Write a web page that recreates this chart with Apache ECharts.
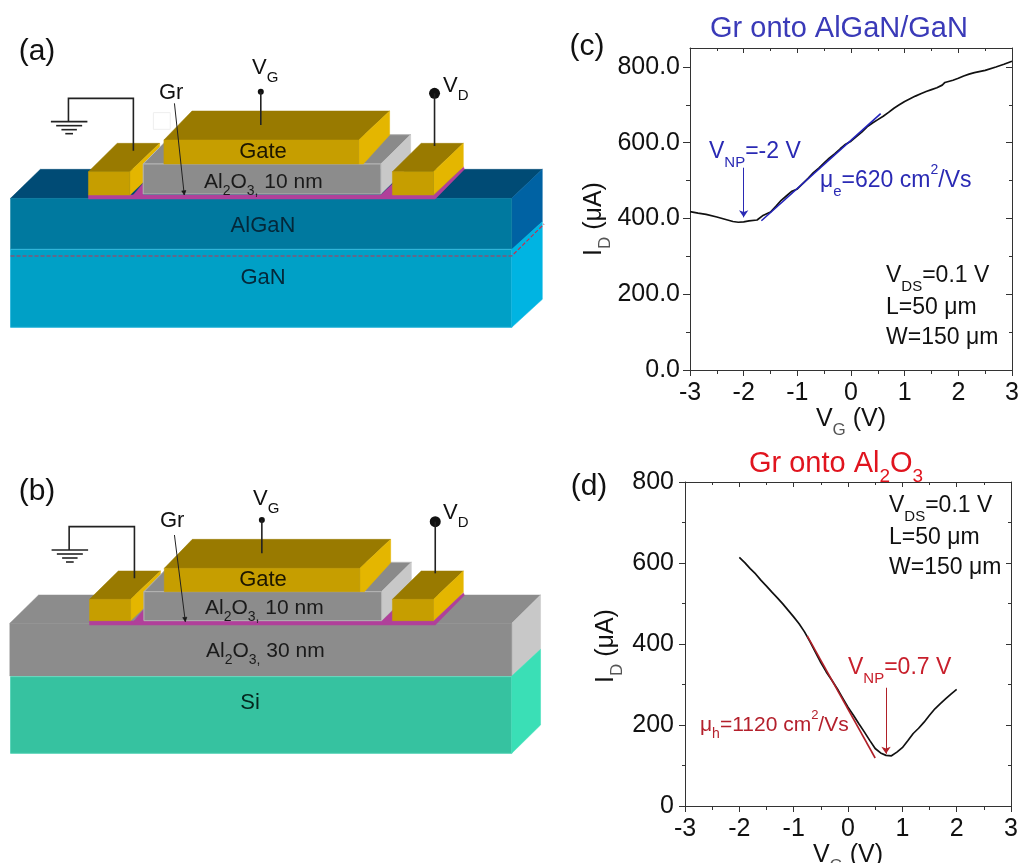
<!DOCTYPE html>
<html><head><meta charset="utf-8">
<style>html,body{margin:0;padding:0;background:#fff}#c{width:1018px;height:863px}</style>
<script src="https://cdn.jsdelivr.net/npm/echarts@6/dist/echarts.min.js"></script>
</head><body><div id="c"></div>
<script>
// ---- data ----
const curveC = [[-3,418],[-2.85,414],[-2.7,411],[-2.5,404],[-2.3,396],[-2.2,392],[-2.1,390],[-2,391],[-1.9,393.5],[-1.75,396],[-1.65,407],[-1.5,417],[-1.4,432],[-1.3,448],[-1.2,460],[-1.1,472],[-1,478],[-0.9,492],[-0.8,506],[-0.7,521],[-0.6,533],[-0.5,547],[-0.4,560],[-0.3,571],[-0.2,584],[-0.1,596],[0,604],[0.1,616],[0.2,628],[0.3,642],[0.4,652],[0.5,661],[0.6,670],[0.7,680],[0.8,691],[0.9,700],[1,709],[1.1,716],[1.2,723],[1.3,729],[1.4,735],[1.5,740],[1.6,745],[1.7,752],[1.75,759],[1.9,765],[2,770],[2.1,776],[2.2,781],[2.3,785],[2.5,791],[2.7,800],[2.85,807],[3,815]];
const fitC = [[-1.67,394],[0.553,677]];
const arrowC = [[-2,534],[-2,403]];
const curveD = [[-2,614],[-1.9,601],[-1.8,586],[-1.7,573],[-1.6,557],[-1.5,543],[-1.4,528],[-1.3,514],[-1.2,499],[-1.1,483],[-1,467],[-0.9,450],[-0.8,430],[-0.7,406],[-0.6,380],[-0.5,354],[-0.4,331],[-0.3,311],[-0.2,290],[-0.1,267],[0,244],[0.1,224],[0.2,203],[0.3,183],[0.4,162],[0.5,142],[0.6,131],[0.7,125],[0.8,124],[0.9,133],[1,144],[1.1,161],[1.2,179],[1.3,192],[1.4,207],[1.5,224],[1.6,240],[1.7,253],[1.8,265],[1.9,277],[2,288]];
const fitD = [[-0.75,420],[0.5,118.5]];
const arrowD = [[0.7,292],[0.7,129]];
const yMajorC = [0,200,400,600,800];
const yMinorC = [100,300,500,700];

// ---- text helper: single string with sub/superscripts ----
const FONT = '"Liberation Sans", Arial, sans-serif';
function rich(size, color, subColor){
  const lh = Math.round(size*1.55);
  const w = {fontFamily:FONT,fontWeight:'normal',lineHeight:lh};
  return {
    m:Object.assign({fontSize:size,color:color,verticalAlign:'middle'},w),
    s:Object.assign({fontSize:Math.round(size*0.66),color:subColor||color,verticalAlign:'bottom'},w),
    u:Object.assign({fontSize:Math.round(size*0.6),color:color,verticalAlign:'top'},w)
  };
}
function label(x,y,text,size,color,align,subColor){
  return {type:'text',x:x,y:y,z:30,silent:true,
    style:{text:text,rich:rich(size,color,subColor),fill:color,font:size+'px '+FONT,align:align||'left',verticalAlign:'middle'}};
}
// ---- schematic helpers (coordinates measured from the crops) ----
const g = [];
let OY = 0;
const P = p => [p[0]*0.351, p[1]/3+OY];
function poly(pts,fill,stroke){ g.push({type:'polygon',silent:true,z:5,shape:{points:pts.map(P)},style:{fill:fill,stroke:stroke||fill,lineWidth:stroke?1:0.5}}); }
function rectz(x0,y0,x1,y1,fill,stroke){ poly([[x0,y0],[x1,y0],[x1,y1],[x0,y1]],fill,stroke); }
function line(pts,stroke,w,dash){ g.push({type:'polyline',silent:true,z:6,shape:{points:pts.map(P)},style:{stroke:stroke,lineWidth:w,fill:null,lineDash:dash||null}}); }
function dot(x,y,r){ const p=P([x,y]); g.push({type:'circle',silent:true,z:6,shape:{cx:p[0],cy:p[1],r:r},style:{fill:'#111'}}); }
function arrow(a,b){
  line([a,b],'#222',1);
  const d=Math.atan2(b[1]-a[1],b[0]-a[0]),L=13,W=6;
  const bx=b[0]-L*Math.cos(d),by=b[1]-L*Math.sin(d);
  poly([b,[bx-W*Math.sin(d),by+W*Math.cos(d)],[bx+W*Math.sin(d),by-W*Math.cos(d)]],'#111');
}
const GOLD_F='#c69e00',GOLD_T='#997a00',GOLD_R='#e4b600',OX_F='#8c8c8c',OX_T='#8a8a8a',OX_R='#c8c8c8',MAG='#b0409a',OX_E='#b4b4b4';
function contact(c){
  poly([[c.x0,c.y0],[c.x0+82,c.y0-85],[c.x1+85,c.y0-85],[c.x1,c.y0]],GOLD_T);
  poly([[c.x1,c.y0],[c.x1+85,c.y0-85],[c.x1+85,c.y1-85],[c.x1,c.y1]],GOLD_R);
  rectz(c.x0,c.y0,c.x1,c.y1,GOLD_F);
}
function device(o){
  OY=o.oy;
  poly([[o.l.x0,o.base-10],[o.r.x1,o.base-10],[o.r.x1+85,o.base-95],[o.r.x1+88,o.base-87],[o.r.x1+5,o.base+2],[o.l.x0,o.base+2]],MAG);
  contact(o.l);
  poly([[o.ox.x0-28,o.base-10],[o.ox.x0,o.base-45],[o.ox.x0,o.base-10]],MAG);
  poly([[o.ox.x1,o.base-10],[o.ox.x1+35,o.base-45],[o.ox.x1+35,o.base-10]],MAG);
  const t=o.ox;
  poly([[t.x0,t.y0],[t.x0+82,t.y0-88],[t.x1+85,t.y0-88],[t.x1,t.y0]],OX_T,OX_E);
  poly([[t.x1,t.y0],[t.x1+85,t.y0-88],[t.x1+85,t.y1-88],[t.x1,t.y1]],OX_R);
  rectz(t.x0,t.y0,t.x1,t.y1,OX_F,OX_E);
  contact(o.r);
  const a=o.gate;
  poly([[a.x0,a.y0],[a.x0+80,a.y0-87],[a.x1+88,a.y0-87],[a.x1,a.y0]],GOLD_T);
  poly([[a.x1,a.y0],[a.x1+88,a.y0-87],[a.x1+88,a.y1-87],[a.x1+13,a.y1],[a.x1,a.y1]],GOLD_R);
  rectz(a.x0,a.y0,a.x1,a.y1,GOLD_F);
}
function wires(o){
  line([[o.gx,o.wy0],[o.gx,o.wy1],[o.ex,o.wy1],[o.ex,o.ey]],'#222',1.6);
  [[52,o.ey],[37,o.ey+12],[22,o.ey+24],[11,o.ey+36]].forEach(r=>line([[o.ex+2-r[0],r[1]],[o.ex+2+r[0],r[1]]],'#222',1.6));
  dot(o.vgx,o.vgy,3); line([[o.vgx,o.vgy],[o.vgx,o.vgy+100]],'#222',1.6);
  dot(o.vdx,o.vdy,5.5); line([[o.vdx,o.vdy],[o.vdx,o.vdend]],'#222',1.6);
  arrow(o.a0,o.a1);
}

// ---- panel (a) ----
OY=20;
poly([[30,535],[115,448],[1545,448],[1458,535]],'#004b75');
poly([[1458,535],[1545,448],[1545,605],[1458,690]],'#0062a3');
rectz(30,535,1458,688,'#00799f');
rectz(30,688,1458,922,'#00a0c6','#35b8dc');
poly([[1458,688],[1545,605],[1545,838],[1458,922]],'#00b4e2');
line([[30,708],[1458,708],[1550,612]],'#c4304e',1.2,[4,2]);
device({oy:20,base:535,l:{x0:252,x1:370,y0:455,y1:525},r:{x0:1118,x1:1235,y0:455,y1:525},ox:{x0:408,x1:1085,y0:432,y1:522},gate:{x0:467,x1:1022,y0:360,y1:432}});
rectz(437,278,485,328,'#ffffff','#eeeeee');
wires({gx:380,wy0:392,wy1:235,ex:195,ey:305,vgx:743,vgy:215,vdx:1238,vdy:220,vdend:378,a0:[497,250],a1:[525,525]});

// ---- panel (b) ----
OY=470;
poly([[28,460],[110,375],[1540,375],[1458,460]],'#8c8c8c');
poly([[1458,460],[1540,375],[1540,538],[1458,618]],'#c8c8c8');
rectz(28,460,1458,618,'#8c8c8c');
rectz(30,620,1458,850,'#36c2a0','#5cd4b8');
poly([[1458,618],[1540,538],[1540,765],[1458,850]],'#3adfb6');
device({oy:470,base:463,l:{x0:255,x1:372,y0:388,y1:452},r:{x0:1118,x1:1235,y0:388,y1:452},ox:{x0:410,x1:1087,y0:365,y1:452},gate:{x0:468,x1:1025,y0:295,y1:365}});
wires({gx:383,wy0:325,wy1:170,ex:197,ey:240,vgx:746,vgy:150,vdx:1240,vdy:155,vdend:310,a0:[497,195],a1:[528,455]});

// ---- texts ----
const INK='#111', SUBINK='#444';
g.push(
 label(37,52,'(a)',30,INK,'center'),
 label(37,492,'(b)',30,INK,'center'),
 label(587,47,'(c)',30,INK,'center'),
 label(589,487,'(d)',30,INK,'center'),
 label(252,68,'{m|V}{s|G}',22,INK,'left',SUBINK),
 label(443,86,'{m|V}{s|D}',22,INK,'left',SUBINK),
 label(159,93,'Gr',22,INK),
 label(263,152,'Gate',22,'#1c1600','center'),
 label(204,182,'{m|Al}{s|2}{m|O}{s|3,}{m| 10 nm}',21,'#1a1a1a','left'),
 label(263,226,'AlGaN',22,'#04283a','center'),
 label(263,278,'GaN',22,'#04283a','center'),
 label(253,499,'{m|V}{s|G}',22,INK,'left',SUBINK),
 label(443,513,'{m|V}{s|D}',22,INK,'left',SUBINK),
 label(160,521,'Gr',22,INK),
 label(263,580,'Gate',22,'#1c1600','center'),
 label(205,608,'{m|Al}{s|2}{m|O}{s|3,}{m| 10 nm}',21,'#1a1a1a','left'),
 label(206,651,'{m|Al}{s|2}{m|O}{s|3,}{m| 30 nm}',21,'#1a1a1a','left'),
 label(250,703,'Si',22,'#04281f','center'),
 label(709,152,'{m|V}{s|NP}{m|=-2 V}',23,'#2a2ab4','left','#5a5ac8'),
 label(820,181,'{m|\u03bc}{s|e}{m|=620 cm}{u|2}{m|/Vs}',23,'#2a2ab4','left'),
 label(886,276,'{m|V}{s|DS}{m|=0.1 V}',23,INK,'left','#555'),
 label(886,308,'L=50 \u03bcm',23,INK),
 label(886,338,'W=150 \u03bcm',23,INK),
 label(889,506,'{m|V}{s|DS}{m|=0.1 V}',23,INK,'left','#555'),
 label(889,538,'L=50 \u03bcm',23,INK),
 label(889,568,'W=150 \u03bcm',23,INK),
 label(848,668,'{m|V}{s|NP}{m|=0.7 V}',23,'#c8202c','left','#c85058'),
 label(700,725,'{m|\u03bc}{s|h}{m|=1120 cm}{u|2}{m|/Vs}',21,'#b4202c','left')
);

// ---- axes ----
const AX='#333';
const grids=[{left:690,top:48,width:322,height:322,outerBoundsMode:'none'},{left:685,top:482,width:326,height:324,outerBoundsMode:'none'}];
const line0={show:true,onZero:false,lineStyle:{color:AX,width:1}};
const lab=(extra)=>Object.assign({color:'#111',fontSize:25,fontFamily:FONT,margin:10},extra||{});
function xAxes(i,name,gap){
  return [{type:'value',gridIndex:i,min:-3,max:3,interval:1,position:'bottom',name:name,nameLocation:'middle',nameGap:gap,
    nameTextStyle:{rich:rich(25,'#111','#555')},
    axisLine:line0,splitLine:{show:false},axisTick:{show:true,length:6,inside:false,lineStyle:{color:AX}},
    minorTick:{show:true,splitNumber:2,length:4,lineStyle:{color:AX}},axisLabel:lab({margin:11})},
   {type:'value',gridIndex:i,min:-3,max:3,interval:1,position:'top',
    axisLine:line0,splitLine:{show:false},axisTick:{show:true,length:5,inside:true,lineStyle:{color:AX}},
    minorTick:{show:true,splitNumber:2,length:3,lineStyle:{color:AX}},axisLabel:{show:false}}];
}
const base={type:'value',axisLine:line0,splitLine:{show:false}};
const yNameC='{m|I}{s|D}{m| (\u03bcA)}';
const xAxis=[...xAxes(0,'{m|V}{s|G}{m| (V)}',24),...xAxes(1,'{m|V}{s|G}{m| (V)}',29)];
const yAxis=[
 Object.assign({},base,{gridIndex:0,min:0,max:850,position:'left',name:yNameC,nameLocation:'middle',nameGap:69,nameRotate:90,
   nameTextStyle:{rich:rich(25,'#111','#555'),padding:[0,20,0,0]},
   axisTick:{show:true,length:7,customValues:yMajorC,lineStyle:{color:AX}},
   axisLabel:lab({customValues:yMajorC,formatter:v=>v.toFixed(1)})}),
 Object.assign({},base,{gridIndex:0,min:0,max:850,position:'right',
   axisTick:{show:true,length:6,inside:true,customValues:yMajorC,lineStyle:{color:AX}},axisLabel:{show:false}}),
 Object.assign({},base,{gridIndex:0,min:0,max:850,position:'left',axisLine:{show:false,onZero:false},
   axisTick:{show:true,length:4,customValues:yMinorC,lineStyle:{color:AX}},axisLabel:{show:false}}),
 Object.assign({},base,{gridIndex:0,min:0,max:850,position:'right',axisLine:{show:false,onZero:false},
   axisTick:{show:true,length:3,inside:true,customValues:yMinorC,lineStyle:{color:AX}},axisLabel:{show:false}}),
 Object.assign({},base,{gridIndex:1,min:0,max:800,interval:200,position:'left',name:yNameC,nameLocation:'middle',nameGap:59,nameRotate:90,
   nameTextStyle:{rich:rich(25,'#111','#555'),padding:[0,4,0,0]},
   axisTick:{show:true,length:6,lineStyle:{color:AX}},minorTick:{show:true,splitNumber:2,length:3,lineStyle:{color:AX}},
   axisLabel:lab({margin:11})}),
 Object.assign({},base,{gridIndex:1,min:0,max:800,interval:200,position:'right',
   axisTick:{show:true,length:5,inside:true,lineStyle:{color:AX}},minorTick:{show:true,splitNumber:2,length:3,lineStyle:{color:AX}},axisLabel:{show:false}})
];
function mark(pts,color){
  return {silent:true,animation:false,symbolSize:7,label:{show:false},lineStyle:{color:color,width:1,type:'solid'},
    data:[[{coord:pts[0],symbol:'none'},{coord:pts[1],symbol:'arrow'}]]};
}
const lineS=(name,x,y,data,color,w,extra)=>Object.assign({name:name,type:'line',xAxisIndex:x,yAxisIndex:y,data:data,showSymbol:false,symbol:'none',
   lineStyle:{color:color,width:w},itemStyle:{color:color},animation:false,z:3},extra||{});

const chart=echarts.init(document.getElementById('c'),null,{renderer:'canvas'});
chart.setOption({
 backgroundColor:'#fff',animation:false,
 title:[
  {text:'Gr onto AlGaN/GaN',left:834,top:9,textAlign:'center',textStyle:{fontFamily:FONT,fontSize:29,fontWeight:'normal',color:'#3a3ab8'}},
  {text:'{m|Gr onto Al}{s|2}{m|O}{s|3}',left:831,top:436,textAlign:'center',textStyle:{fontWeight:'normal',rich:rich(29,'#e0141e')}}
 ],
 grid:grids,xAxis:xAxis,yAxis:yAxis,
 series:[
  lineS('Gr onto AlGaN/GaN',0,0,curveC,'#111',1.7),
  lineS('fit c',0,0,fitC,'#2222bb',1.6,{z:4,markLine:mark(arrowC,'#2a2ab4')}),
  lineS('Gr onto Al2O3',2,4,curveD,'#111',1.7),
  lineS('fit d',2,4,fitD,'#b02028',1.6,{z:4,markLine:mark(arrowD,'#b02028')})
 ],
 graphic:{elements:g}
});
</script></body></html>
